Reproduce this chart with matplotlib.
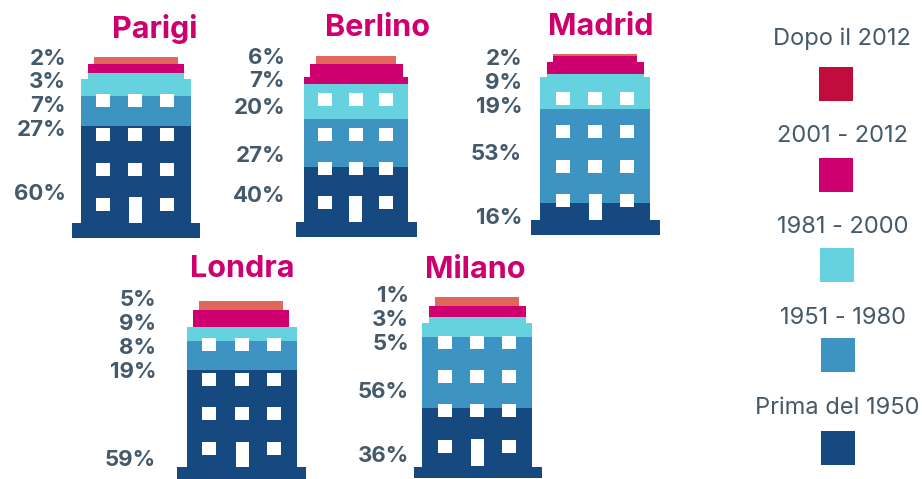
import matplotlib
matplotlib.use("Agg")
import matplotlib.pyplot as plt
from matplotlib.patches import Polygon, Rectangle

plt.rcParams['font.family'] = ['Inter', 'DejaVu Sans']

# --- data ---
cities = ['Parigi', 'Berlino', 'Madrid', 'Londra', 'Milano']
periods = ['Dopo il 2012', '2001 - 2012', '1981 - 2000', '1951 - 1980', 'Prima del 1950']

# printed percentages
pct_dopo_2012 = [2, 6, 2, 5, 1]
pct_2001_2012 = [3, 7, 9, 9, 3]
pct_1981_2000 = [7, 20, 19, 8, 5]
pct_1951_1980 = [27, 27, 53, 19, 56]
pct_prima_1950 = [60, 40, 16, 59, 36]

# drawn floors of each building (the source is not to scale)
band_dopo_2012 = [7, 8, 2, 9, 9]
band_2001_2012 = [9, 20, 18, 17, 11]
band_1981_2000 = [23, 35, 35, 14, 20]
band_1951_1980 = [30, 48, 94, 29, 71]
band_prima_1950 = [112, 70, 32, 109, 70]

# --- style / layout ---
GREY = '#44596A'
PINK = '#CE0070'
band_colors = ['#E0675A', PINK, '#66D2E0', '#3D94C2', '#16497F']
legend_colors = ['#C00D3C', PINK, '#66D2E0', '#3D94C2', '#16497F']

roof_top = [57, 56, 54, 301, 297]
# outline of each building: (y where the step starts, left, right), then the bottom y
outlines = [
    ([(57, 94, 178), (64, 87.5, 184), (79, 80.5, 190.5), (223, 71.5, 200)], 238),
    ([(56, 316, 396), (64, 310, 403), (77, 304, 408), (222, 295.5, 416.5)], 237),
    ([(54, 553, 637), (62, 547, 644), (76.5, 540, 650), (220, 531, 660)], 235),
    ([(301, 199, 283), (310, 193, 289), (327, 186.5, 297), (467, 177, 306)], 479),
    ([(297, 435, 519), (306, 429, 526), (322.5, 422, 532), (467, 414, 542)], 478),
]
window_cols = [(103, 135, 167), (325, 355.5, 386), (563, 595, 627), (209, 242, 274), (445, 477, 509)]
window_rows = [(100, 134, 169, 204), (99.5, 134, 168, 202), (98.5, 131.5, 166, 200.5),
               (344, 379, 413, 448), (342, 376, 410, 446)]
door_top = [197, 196, 194, 442, 439]
door_bottom = [223, 222, 220, 467, 466]

title_pos = [(155, 28), (377, 27), (601, 26), (242, 268), (475, 269)]
label_right = [66, 285, 522, 156, 409]
label_y = [(57, 80, 104, 128, 193), (56, 79, 106, 154, 194), (57, 81, 105, 153, 217),
           (298, 322, 347, 370, 459), (294, 318, 342, 390, 454)]

legend_text_pos = [(842, 38), (842, 135), (842.5, 226), (842.5, 317), (837, 407)]
legend_box_pos = [(819, 67), (819, 158), (820, 248), (821, 338), (821, 431)]

fig = plt.figure(figsize=(9.22, 4.79), dpi=100)
ax = fig.add_axes([0, 0, 1, 1])
ax.set_xlim(0, 922)
ax.set_ylim(479, 0)
ax.axis('off')

bands = [band_dopo_2012, band_2001_2012, band_1981_2000, band_1951_1980, band_prima_1950]
pcts = [pct_dopo_2012, pct_2001_2012, pct_1981_2000, pct_1951_1980, pct_prima_1950]

for i, city in enumerate(cities):
    steps, bottom = outlines[i]

    # silhouette used to cut the stacked bars
    left_side, right_side = [], []
    for k, (y, x0, x1) in enumerate(steps):
        y_end = steps[k + 1][0] if k + 1 < len(steps) else bottom
        left_side += [(x0, y), (x0, y_end)]
        right_side += [(x1, y), (x1, y_end)]
    shape = Polygon(left_side + right_side[::-1], closed=True, transform=ax.transData,
                    facecolor='none', edgecolor='none')
    ax.add_patch(shape)

    x_min = min(s[1] for s in steps)
    x_max = max(s[2] for s in steps)

    # stacked floors, top to bottom (the y axis points down)
    y = roof_top[i]
    for j in range(len(periods)):
        h = bands[j][i]
        bars = ax.bar((x_min + x_max) / 2, h, width=x_max - x_min, bottom=y,
                      color=band_colors[j], linewidth=0)
        bars[0].set_clip_path(shape)
        y += h

    # windows and door
    for r, wy in enumerate(window_rows[i]):
        for c, wx in enumerate(window_cols[i]):
            if r == 3 and c == 1:
                continue
            ax.add_patch(Rectangle((wx - 7, wy - 6.5), 14, 13, facecolor='white', linewidth=0))
    dx = window_cols[i][1]
    ax.add_patch(Rectangle((dx - 6.5, door_top[i]), 13, door_bottom[i] - door_top[i],
                           facecolor='white', linewidth=0))

    ax.text(title_pos[i][0], title_pos[i][1] + 1, city, color=PINK, fontsize=22,
            fontweight='bold', ha='center', va='center')
    for j in range(len(periods)):
        ax.text(label_right[i], label_y[i][j] + 1.5, f"{pcts[j][i]}%", color=GREY, fontsize=16,
                fontweight='bold', ha='right', va='center')

# --- legend ---
for j, name in enumerate(periods):
    ax.text(legend_text_pos[j][0], legend_text_pos[j][1] + 1, name, color=GREY, fontsize=17,
            ha='center', va='center')
    ax.add_patch(Rectangle(legend_box_pos[j], 34, 34, facecolor=legend_colors[j], linewidth=0))

fig.savefig('out.png', dpi=100)
